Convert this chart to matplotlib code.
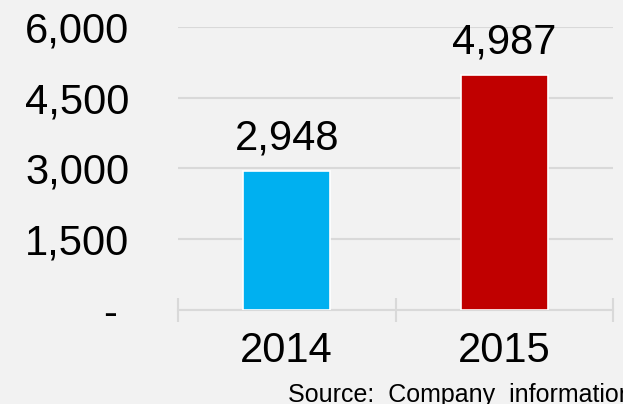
import matplotlib
matplotlib.use("Agg")
import matplotlib.pyplot as plt

categories = ["2014", "2015"]
values = [2948, 4987]
value_labels = ["2,948", "4,987"]
colors = ["#00B0F0", "#C00000"]
yticks = [0, 1500, 3000, 4500, 6000]
ytick_labels = ["- ", "1,500", "3,000", "4,500", "6,000"]
source = "Source:  Company  information"

plt.rcParams['font.family'] = ['Liberation Sans', 'DejaVu Sans']
bg = "#F2F2F2"
fig = plt.figure(figsize=(6.23, 4.04), dpi=100, facecolor=bg)
ax = fig.add_axes([178/623, 1 - 310/404, (613-178)/623, (310-26.7)/404])
ax.set_facecolor(bg)

x = list(range(len(categories)))
ax.bar(x, values, width=0.40, color=colors, edgecolor="white", linewidth=1.2, zorder=3)
for xi, v, lab in zip(x, values, value_labels):
    ax.annotate(lab, (xi, v), xytext=(0, 9), textcoords="offset points",
                ha="center", va="bottom", fontsize=30, color="black")

ax.set_xlim(-0.5, 1.5)
ax.set_ylim(0, 6000)
ax.set_yticks(yticks)
ax.set_yticklabels(ytick_labels, fontsize=30)
ax.tick_params(axis="y", length=0, pad=35)
ax.set_xticks(x)
ax.set_xticklabels(categories, fontsize=30)
ax.tick_params(axis="x", which="major", length=0, pad=15)
ax.set_xticks([-0.5, 0.5, 1.5], minor=True)
ax.tick_params(axis="x", which="minor", direction="inout", length=17, width=1.5, color="#D9D9D9")
ax.grid(axis="y", color="#D9D9D9", linewidth=1.5, zorder=0)
for s in ["top", "right", "left"]:
    ax.spines[s].set_visible(False)
ax.spines["bottom"].set_color("#D9D9D9")
ax.spines["bottom"].set_linewidth(1.5)
ax.spines["bottom"].set_zorder(2)

fig.text(288/623, 1 - 402/404, source, fontsize=18, ha="left", va="baseline", color="black")
fig.savefig("out.png", dpi=100, facecolor=bg)
